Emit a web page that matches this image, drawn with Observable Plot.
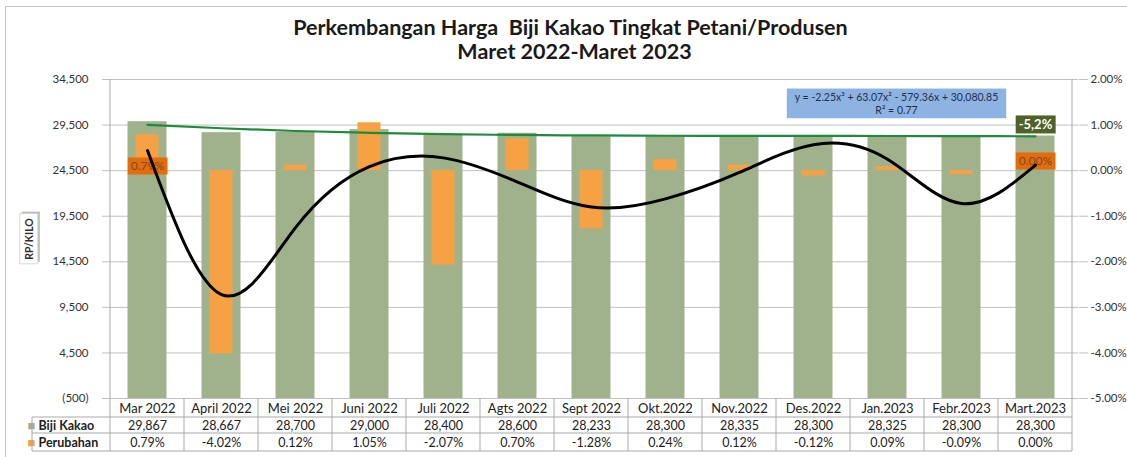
<!DOCTYPE html>
<html>
<head>
<meta charset="utf-8">
<script src="https://cdn.jsdelivr.net/npm/d3@7"></script>
<script src="https://cdn.jsdelivr.net/npm/@observablehq/plot@0.6"></script>
<style>
  html, body { margin: 0; padding: 0; background: #fff; }
  body { position: relative; width: 1127px; height: 457px; overflow: hidden; font-family: Lato, sans-serif; }
  #frame { position: absolute; left: 5px; top: 6px; width: 1140px; height: 470px; border: 1.5px solid #c4c4c4; pointer-events: none; }
</style>
</head>
<body>
<div id="chart"></div>
<div id="frame"></div>
<script>
// ---- data ----
const months = ["Mar 2022","April 2022","Mei 2022","Juni 2022","Juli 2022","Agts 2022","Sept 2022","Okt.2022","Nov.2022","Des.2022","Jan.2023","Febr.2023","Mart.2023"];
const bijiKakao = [29867,28667,28700,29000,28400,28600,28233,28300,28335,28300,28325,28300,28300];
const perubahan = [0.79,-4.02,0.12,1.05,-2.07,0.70,-1.28,0.24,0.12,-0.12,0.09,-0.09,0.00];
// trend lines
const priceTrend = [29520,29150,28850,28650,28500,28420,28360,28330,28320,28310,28300,28290,28270];
const changeTrend = [0.44,-2.72,-1.25,0.09,0.28,-0.25,-0.80,-0.62,-0.04,0.57,0.25,-0.72,0.12];
const leftTicks = [-500,4500,9500,14500,19500,24500,29500,34500];
const rightTicks = [2,1,0,-1,-2,-3,-4,-5];
const title1 = "Perkembangan Harga  Biji Kakao Tingkat Petani/Produsen";
const title2 = "Maret 2022-Maret 2023";
const equation = "y = -2.25x³ + 63.07x² - 579.36x + 30,080.85\nR² = 0.77";
const trendNote = "-5,2%";
const yLabel = "RP/KILO";
const rowLabels = ["Biji Kakao","Perubahan"];

// ---- helpers ----
// right axis (percent) is mapped onto the left axis units: 0% = 24,500 ; 1% = 5,000
const pctZero = 24500, pctUnit = 5000;
const toLeft = p => pctZero + p * pctUnit;
const fmtK = d => d < 0 ? `(${d3.format(",")(-d)})` : d3.format(",")(d);
const fmtPct = p => p.toFixed(2) + "%";

const data = months.map((m, i) => ({
  month: m, price: bijiKakao[i], pct: perubahan[i], pTrend: priceTrend[i], cTrend: changeTrend[i]
}));
const first = data[0], last = data[data.length - 1];

const GREEN = "#a0b28c", ORANGE = "#f7a145", GRID = "#c0c0c0";
const PCT_TXT = "#7a4a2a", NOTE_TXT = "#ffffff", EQ_TXT = "#1f2f4f", YLAB_TXT = "#303030";

const plot = Plot.plot({
  width: 1127, height: 457,
  marginTop: 79, marginBottom: 59, marginLeft: 104, marginRight: 49,
  style: { fontFamily: "Lato, sans-serif", fontSize: "11px", color: "#333", background: "white", overflow: "visible" },
  x: { type: "band", domain: months, padding: 0, axis: null },
  y: { domain: [leftTicks[0], leftTicks[leftTicks.length - 1]], axis: null },
  marks: [
    Plot.gridY(leftTicks, { stroke: GRID, strokeOpacity: 1 }),
    Plot.axisY(leftTicks, { anchor: "left", tickSize: 2, tickPadding: 14, tickFormat: fmtK, label: null, stroke: GRID, fill: "#333", fontSize: 11.5 }),
    Plot.axisY(rightTicks.map(toLeft), { anchor: "right", tickSize: 9, tickPadding: 3, tickFormat: v => fmtPct((v - pctZero) / pctUnit), label: null, stroke: GRID, fill: "#333", fontSize: 11.5 }),
    Plot.barY(data, { x: "month", y1: leftTicks[0], y2: "price", fill: GREEN, insetLeft: 17.5, insetRight: 17.5 }),
    Plot.barY(data, { x: "month", y1: pctZero, y2: d => toLeft(d.pct), fill: ORANGE, insetLeft: 25.5, insetRight: 25.5 }),
    Plot.line(data, { x: "month", y: "pTrend", stroke: "#1f8a3b", strokeWidth: 2.2, curve: "natural" }),
    // data labels with orange boxes
    Plot.text([first], { x: "month", y: pctZero, dy: -4, text: d => fmtPct(d.pct), fill: PCT_TXT, fontSize: 12 }),
    Plot.text([last], { x: "month", y: pctZero, dy: -9, text: d => fmtPct(d.pct), fill: PCT_TXT, fontSize: 12 }),
    // polynomial trend of the changes (drawn over the labels)
    Plot.line(data, { x: "month", y: d => toLeft(d.cTrend), stroke: "#000", strokeWidth: 3, curve: "natural" }),
    // trend note
    Plot.text([last], { x: "month", y: "pTrend", dy: -11, text: () => trendNote, fill: NOTE_TXT, fontWeight: "bold", fontSize: 13 }),
    // equation box
    Plot.text([data[10]], { x: "month", frameAnchor: "top", dx: 9, dy: 23.5, lineAnchor: "middle", lineHeight: 1.3, text: () => equation, fill: EQ_TXT, fontSize: 10.5 }),
    // titles
    Plot.text([title1], { frameAnchor: "top", dx: -21, dy: -51, lineAnchor: "middle", fontSize: 21.5, fontWeight: "bold", fill: "#1a1a1a" }),
    Plot.text([title2], { frameAnchor: "top", dx: -17, dy: -27, lineAnchor: "middle", fontSize: 21.5, fontWeight: "bold", fill: "#1a1a1a" }),
    // y label
    Plot.text([yLabel], { frameAnchor: "left", dx: -75, rotate: -90, textAnchor: "middle", lineAnchor: "middle", fontSize: 10.5, fontWeight: "bold", fill: YLAB_TXT }),
    // data table
    Plot.text(data, { x: "month", text: "month", frameAnchor: "bottom", dy: 10, lineAnchor: "middle", fontSize: 13, fill: "#222" }),
    Plot.text(data, { x: "month", text: d => d3.format(",")(d.price), frameAnchor: "bottom", dy: 27, lineAnchor: "middle", fontSize: 12.5, fill: "#222" }),
    Plot.text(data, { x: "month", text: d => fmtPct(d.pct), frameAnchor: "bottom", dy: 44, lineAnchor: "middle", fontSize: 12.5, fill: "#222" }),
    Plot.text(["■"], { frameAnchor: "bottom-left", dx: -77, dy: 27, lineAnchor: "middle", textAnchor: "start", fill: GREEN, fontSize: 13 }),
    Plot.text(["■"], { frameAnchor: "bottom-left", dx: -77, dy: 44, lineAnchor: "middle", textAnchor: "start", fill: ORANGE, fontSize: 13 }),
    Plot.text([rowLabels[0]], { frameAnchor: "bottom-left", dx: -66, dy: 27, lineAnchor: "middle", textAnchor: "start", fontSize: 12.5, fontWeight: "bold", fill: "#222" }),
    Plot.text([rowLabels[1]], { frameAnchor: "bottom-left", dx: -66, dy: 44, lineAnchor: "middle", textAnchor: "start", fontSize: 12.5, fontWeight: "bold", fill: "#222" })
  ]
});

document.getElementById("chart").append(plot);

// ---- boxes behind annotation texts (sized from the texts) ----
function boxify(textFill, fill, padX, padY, opts = {}) {
  d3.select(plot).selectAll(`g[fill="${textFill}"] text`).each(function () {
    const b = this.getBBox();
    const t = this.getAttribute("transform");
    const parent = this.parentNode;
    const mk = (dx, dy, f) => {
      const r = document.createElementNS("http://www.w3.org/2000/svg", "rect");
      r.setAttribute("x", b.x - padX + dx); r.setAttribute("y", b.y - padY + dy);
      r.setAttribute("width", b.width + 2 * padX); r.setAttribute("height", b.height + 2 * padY);
      r.setAttribute("fill", f);
      if (t) r.setAttribute("transform", t);
      parent.insertBefore(r, this);
      return r;
    };
    if (opts.shadow) mk(2, 2, "#bdbdbd");
    const r = mk(0, 0, fill);
    if (opts.stroke) { r.setAttribute("stroke", opts.stroke); r.setAttribute("stroke-width", 0.8); }
  });
}
boxify(PCT_TXT, "#e46c0a", 3, 1);
boxify(NOTE_TXT, "#4f6228", 3, 1);
boxify(EQ_TXT, "#8db3e2", 8, 2);
boxify(YLAB_TXT, "#ffffff", 4, 3, { shadow: true, stroke: "#d0d0d0" });

// ---- table / frame rules, positioned with the plot's own scales ----
const xs = plot.scale("x"), ys = plot.scale("y");
const bw = xs.bandwidth;
const edges = months.map(m => xs.apply(m)).concat([xs.apply(months[months.length - 1]) + bw]);
const yBottom = ys.apply(leftTicks[0]);
const yTop = ys.apply(leftTicks[leftTicks.length - 1]);
const rowH = [19, 35, 53];
const tableLeft = edges[0] - 78;
const g = d3.select(plot).append("g").attr("stroke", "#a9a9a9").attr("stroke-width", 1).attr("fill", "none");
edges.forEach((x, k) => {
  const isOuter = k === 0 || k === edges.length - 1;
  g.append("line").attr("x1", x).attr("x2", x).attr("y1", isOuter ? yTop : yBottom).attr("y2", yBottom + rowH[2]);
});
g.append("line").attr("x1", tableLeft).attr("x2", tableLeft).attr("y1", yBottom + rowH[0]).attr("y2", yBottom + rowH[2]);
rowH.forEach(h => {
  g.append("line").attr("x1", tableLeft).attr("x2", edges[edges.length - 1]).attr("y1", yBottom + h).attr("y2", yBottom + h);
});
</script>
</body>
</html>
